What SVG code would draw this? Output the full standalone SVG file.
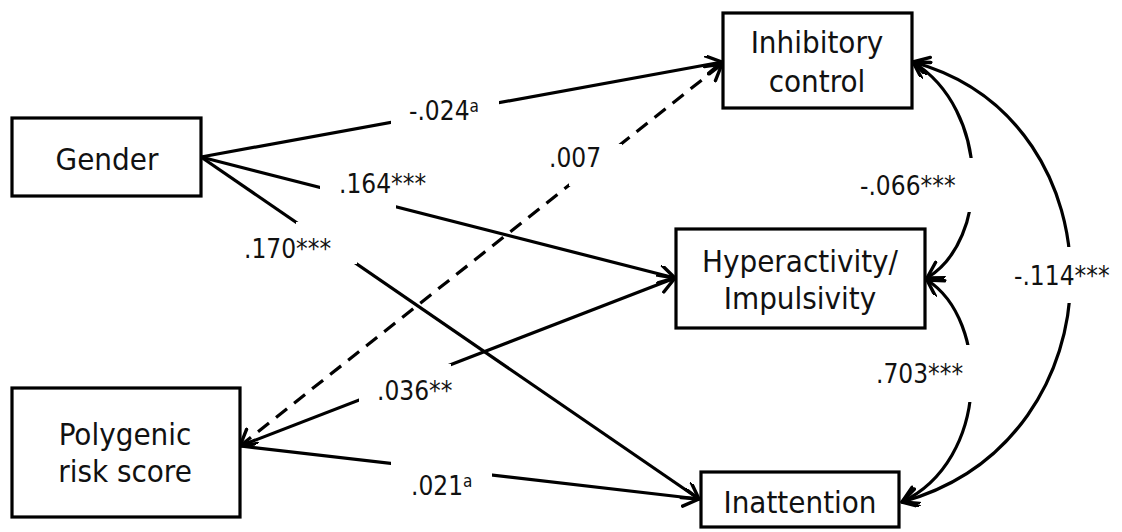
<svg xmlns="http://www.w3.org/2000/svg" width="1122" height="532" viewBox="0 0 1122 532">
  <style>
    .box { fill: #fff; stroke: #000; stroke-width: 3.2; }
    .node-text { font-family: "DejaVu Sans Condensed", "DejaVu Sans", sans-serif; font-size: 31px; fill: #111; text-anchor: middle; }
    .lbl { font-family: "DejaVu Sans Condensed", "DejaVu Sans", sans-serif; font-size: 26px; fill: #111; }
    .sup { font-size: 17px; }
    .path { fill: none; stroke: #000; stroke-width: 3.2; }
    .dashed { stroke-dasharray: 14 9; }
    .mask { fill: #fff; stroke: none; }
  </style>
  <defs>
    <marker id="arrow" viewBox="0 0 20 20" refX="17" refY="9" markerWidth="20" markerHeight="20" markerUnits="userSpaceOnUse" orient="auto-start-reverse">
      <path d="M1.5,0 L17,9 L1.5,18" fill="none" stroke="#000" stroke-width="3.4" stroke-linejoin="round" stroke-linecap="round"/>
    </marker>
  </defs>

  <rect width="1122" height="532" fill="#fff"/>

  <!-- paths and correlations -->
  <g id="connectors">
    <line class="path" x1="201" y1="157" x2="722" y2="62" marker-end="url(#arrow)"/>
    <line class="path" x1="201" y1="157" x2="675" y2="278" marker-end="url(#arrow)"/>
    <line class="path" x1="201" y1="157" x2="699" y2="499" marker-end="url(#arrow)"/>
    <line class="path" x1="240" y1="446" x2="675" y2="278" marker-end="url(#arrow)"/>
    <line class="path" x1="240" y1="446" x2="699" y2="499" marker-end="url(#arrow)"/>
    <line class="path dashed" x1="240" y1="446" x2="722" y2="64" marker-start="url(#arrow)" marker-end="url(#arrow)"/>
    <path class="path" d="M913,62 C990,110 990,240 927,278" marker-start="url(#arrow)" marker-end="url(#arrow)"/>
    <path class="path" d="M927,280 C990,320 990,460 902,502" marker-start="url(#arrow)" marker-end="url(#arrow)"/>
    <path class="path" d="M913,62 C1125,120 1125,440 902,502" marker-start="url(#arrow)" marker-end="url(#arrow)"/>
  </g>

  <!-- coefficient labels, each on a white patch that opens a gap in its line -->
  <g id="labels">
    <rect class="mask" x="391" y="98" width="108" height="28"/>
    <text class="lbl" x="409" y="120">-.024<tspan class="sup" dy="-8">a</tspan></text>

    <rect class="mask" x="569" y="144" width="53" height="42"/>
    <text class="lbl" x="549" y="167">.007</text>

    <rect class="mask" x="320" y="178" width="76" height="32"/>
    <text class="lbl" x="339" y="193">.164***</text>

    <rect class="mask" x="296" y="222" width="61" height="42"/>
    <text class="lbl" x="244" y="258">.170***</text>

    <rect class="mask" x="359" y="364" width="92" height="38"/>
    <text class="lbl" x="377" y="400">.036**</text>

    <rect class="mask" x="391" y="458" width="101" height="42"/>
    <text class="lbl" x="411" y="495">.021<tspan class="sup" dy="-8">a</tspan></text>

    <rect class="mask" x="860" y="158" width="125" height="54"/>
    <text class="lbl" x="860" y="195">-.066***</text>

    <rect class="mask" x="1012" y="247" width="108" height="56"/>
    <text class="lbl" x="1014" y="285">-.114***</text>

    <rect class="mask" x="874" y="345" width="112" height="57"/>
    <text class="lbl" x="876" y="383">.703***</text>
  </g>

  <g id="gender">
    <rect class="box" x="12" y="118" width="189" height="78"/>
    <text class="node-text" x="107" y="170">Gender</text>
  </g>

  <g id="polygenic-risk-score">
    <rect class="box" x="12" y="388" width="228" height="129"/>
    <text class="node-text" x="125" y="445">Polygenic</text>
    <text class="node-text" x="125" y="482">risk score</text>
  </g>

  <g id="inhibitory-control">
    <rect class="box" x="723" y="13" width="189" height="95"/>
    <text class="node-text" x="817" y="53">Inhibitory</text>
    <text class="node-text" x="817" y="92">control</text>
  </g>

  <g id="hyperactivity-impulsivity">
    <rect class="box" x="676" y="229" width="249" height="99"/>
    <text class="node-text" x="800" y="272">Hyperactivity/</text>
    <text class="node-text" x="800" y="309">Impulsivity</text>
  </g>

  <g id="inattention">
    <rect class="box" x="701" y="472" width="198" height="55"/>
    <text class="node-text" x="800" y="513">Inattention</text>
  </g>
</svg>
